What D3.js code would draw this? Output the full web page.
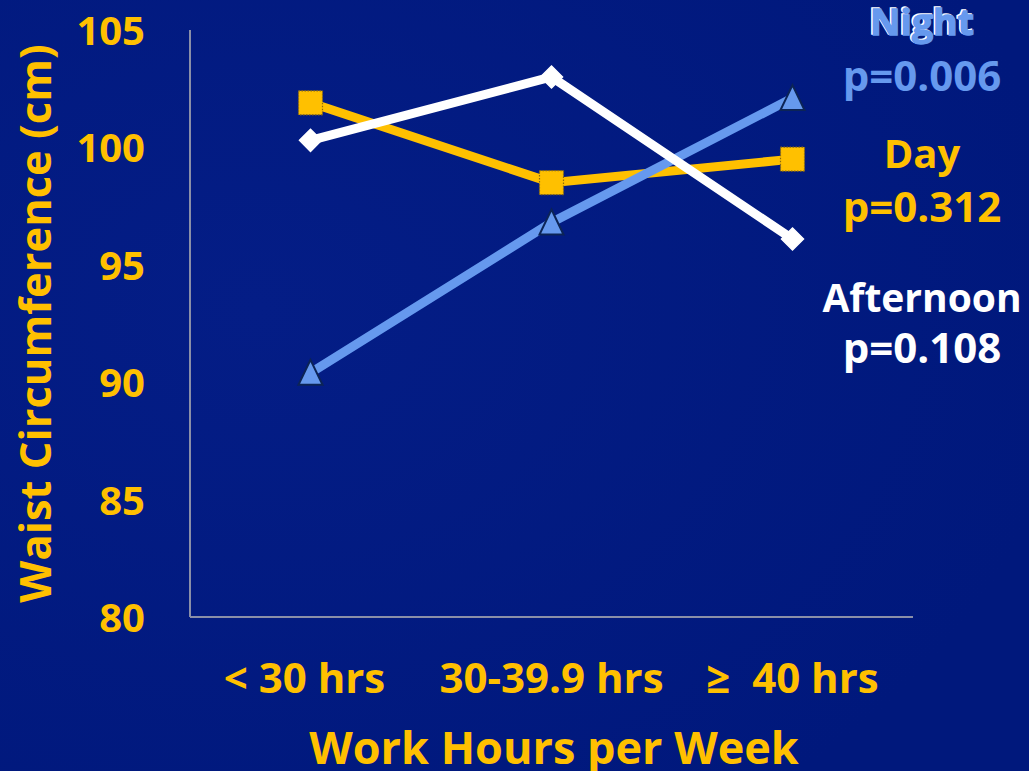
<!DOCTYPE html>
<html>
<head>
<meta charset="utf-8">
<script src="https://cdn.jsdelivr.net/npm/d3@7"></script>
<style>
  html, body { margin: 0; padding: 0; background: #011a7e; overflow: hidden; }
  svg { display: block; }
  text { font-family: "Open Sans", "Noto Sans", sans-serif; font-weight: 700; white-space: pre; }
</style>
</head>
<body>
<svg id="chart" width="1029" height="771"></svg>
<script>
// Work-hour groups on the x axis
const categories = ["< 30 hrs", "30-39.9 hrs", "\u2265  40 hrs"];

// Mean waist circumference (cm) by shift
const dayValues = [101.9, 98.5, 99.5];
const afternoonValues = [100.3, 103.0, 96.1];
const nightValues = [90.4, 96.8, 102.1];

// y axis ticks
const yTicks = [80, 85, 90, 95, 100, 105];

// Shift labels with p-values
const shiftLabels = ["Night", "Day", "Afternoon"];
const pLabels = ["p=0.006", "p=0.312", "p=0.108"];

const GOLD = "#FFC000";
const BLUE = "#6699EE";
const WHITE = "#FFFFFF";

const W = 1029, H = 771;
const margin = { left: 190, right: 116, top: 30, bottom: 154 };
const svg = d3.select("#chart");

// Background: deep navy with a faint lighter glow on the left
const defs = svg.append("defs");
const bg = defs.append("radialGradient").attr("id", "bg")
  .attr("cx", "25%").attr("cy", "40%").attr("r", "80%");
bg.append("stop").attr("offset", "0%").attr("stop-color", "#041d86");
bg.append("stop").attr("offset", "100%").attr("stop-color", "#00187c");
svg.append("rect").attr("width", W).attr("height", H).attr("fill", "url(#bg)");

const x = d3.scaleBand().domain(categories)
  .range([margin.left, W - margin.right]).padding(0);
const y = d3.scaleLinear().domain([80, 105])
  .range([H - margin.bottom, margin.top]);

// Axis lines
svg.append("line")
  .attr("x1", margin.left).attr("x2", margin.left)
  .attr("y1", y(105)).attr("y2", y(80))
  .attr("stroke", "#8a8fa8").attr("stroke-width", 2);
svg.append("line")
  .attr("x1", margin.left).attr("x2", W - margin.right)
  .attr("y1", y(80)).attr("y2", y(80))
  .attr("stroke", "#8a8fa8").attr("stroke-width", 2);

// y tick labels
const yAxis = d3.axisLeft(y).tickValues(yTicks).tickSize(0).tickPadding(0);
const gy = svg.append("g").attr("transform", `translate(${margin.left - 45},0)`).call(yAxis);
gy.select(".domain").remove();
gy.selectAll("text")
  .attr("fill", GOLD)
  .style("font-size", "40px")
  .style("font-family", "'Open Sans', sans-serif")
  .style("font-weight", 700)
  .attr("dy", "0.36em");

// x tick labels
const xAxis = d3.axisBottom(x).tickSize(0).tickPadding(0);
const gx = svg.append("g").attr("transform", `translate(0,${y(80)})`).call(xAxis);
gx.select(".domain").remove();
gx.selectAll("text")
  .attr("fill", GOLD)
  .attr("y", 76).attr("dy", 0)
  .attr("dx", (d, i) => i === 0 ? -6 : 0)
  .style("font-size", "42px")
  .style("font-family", "'Open Sans', sans-serif")
  .style("font-weight", 700)
  .style("white-space", "pre");

// Axis titles
svg.append("text")
  .attr("x", 554)
  .attr("y", 764)
  .attr("text-anchor", "middle")
  .attr("fill", GOLD)
  .style("font-size", "45px")
  .text("Work Hours per Week");

svg.append("text")
  .attr("transform", `translate(51,${(42 + 605) / 2}) rotate(-90)`)
  .attr("text-anchor", "middle")
  .attr("fill", GOLD)
  .style("font-size", "43.5px")
  .text("Waist Circumference (cm)");

// Series
const series = [
  { name: "Night", values: nightValues, color: BLUE, marker: "triangle" },
  { name: "Day", values: dayValues, color: GOLD, marker: "square" },
  { name: "Afternoon", values: afternoonValues, color: WHITE, marker: "diamond" }
];

const cx = c => x(c) + x.bandwidth() / 2;
const line = d3.line().x(d => cx(d.c)).y(d => y(d.v));

const drawOrder = [series[1], series[0], series[2]];
drawOrder.forEach(s => {
  const pts = categories.map((c, i) => ({ c, v: s.values[i] }));
  svg.append("path")
    .datum(pts)
    .attr("d", line)
    .attr("fill", "none")
    .attr("stroke", s.color)
    .attr("stroke-width", 9)
    .attr("stroke-linejoin", "miter");

  const g = svg.append("g");
  pts.forEach(p => {
    const px = cx(p.c), py = y(p.v);
    if (s.marker === "square") {
      g.append("rect")
        .attr("x", px - 12).attr("y", py - 12)
        .attr("width", 24).attr("height", 24)
        .attr("fill", GOLD)
        .attr("stroke", "#8a6a10").attr("stroke-width", 1.2)
        .attr("stroke-dasharray", "1.5,1.5");
    } else if (s.marker === "triangle") {
      g.append("path")
        .attr("d", `M${px},${py - 13} L${px + 12},${py + 12} L${px - 12},${py + 12} Z`)
        .attr("fill", BLUE)
        .attr("stroke", "#0c2456").attr("stroke-width", 2);
    } else {
      g.append("path")
        .attr("d", `M${px},${py - 11} L${px + 11},${py} L${px},${py + 11} L${px - 11},${py} Z`)
        .attr("fill", WHITE)
        .attr("stroke", WHITE).attr("stroke-width", 1.5);
    }
  });
});

// Shift labels with p-values
const labelX = 922;
const labelRows = [
  { t: shiftLabels[0], y: 35, color: BLUE, outline: true, size: 36 },
  { t: pLabels[0], y: 91, color: BLUE, size: 42 },
  { t: shiftLabels[1], y: 168, color: GOLD, size: 40 },
  { t: pLabels[1], y: 222, color: GOLD, size: 42 },
  { t: shiftLabels[2], y: 312, color: WHITE, size: 39 },
  { t: pLabels[2], y: 363, color: WHITE, size: 42 }
];
labelRows.forEach(r => {
  if (r.outline) {
    // white highlight behind the heavier "Night" heading
    svg.append("text")
      .attr("x", labelX - 1.5).attr("y", r.y - 1.5)
      .attr("text-anchor", "middle")
      .attr("fill", WHITE)
      .attr("stroke", WHITE).attr("stroke-width", 1.4)
      .attr("textLength", 104).attr("lengthAdjust", "spacingAndGlyphs")
      .style("font-size", r.size + "px")
      .text(r.t);
    svg.append("text")
      .attr("x", labelX).attr("y", r.y)
      .attr("text-anchor", "middle")
      .attr("fill", r.color)
      .attr("stroke", r.color).attr("stroke-width", 1.4)
      .attr("textLength", 104).attr("lengthAdjust", "spacingAndGlyphs")
      .style("font-size", r.size + "px")
      .text(r.t);
    return;
  }
  svg.append("text")
    .attr("x", labelX).attr("y", r.y)
    .attr("text-anchor", "middle")
    .attr("fill", r.color)
    .style("font-size", r.size + "px")
    .text(r.t);
});
</script>
</body>
</html>
